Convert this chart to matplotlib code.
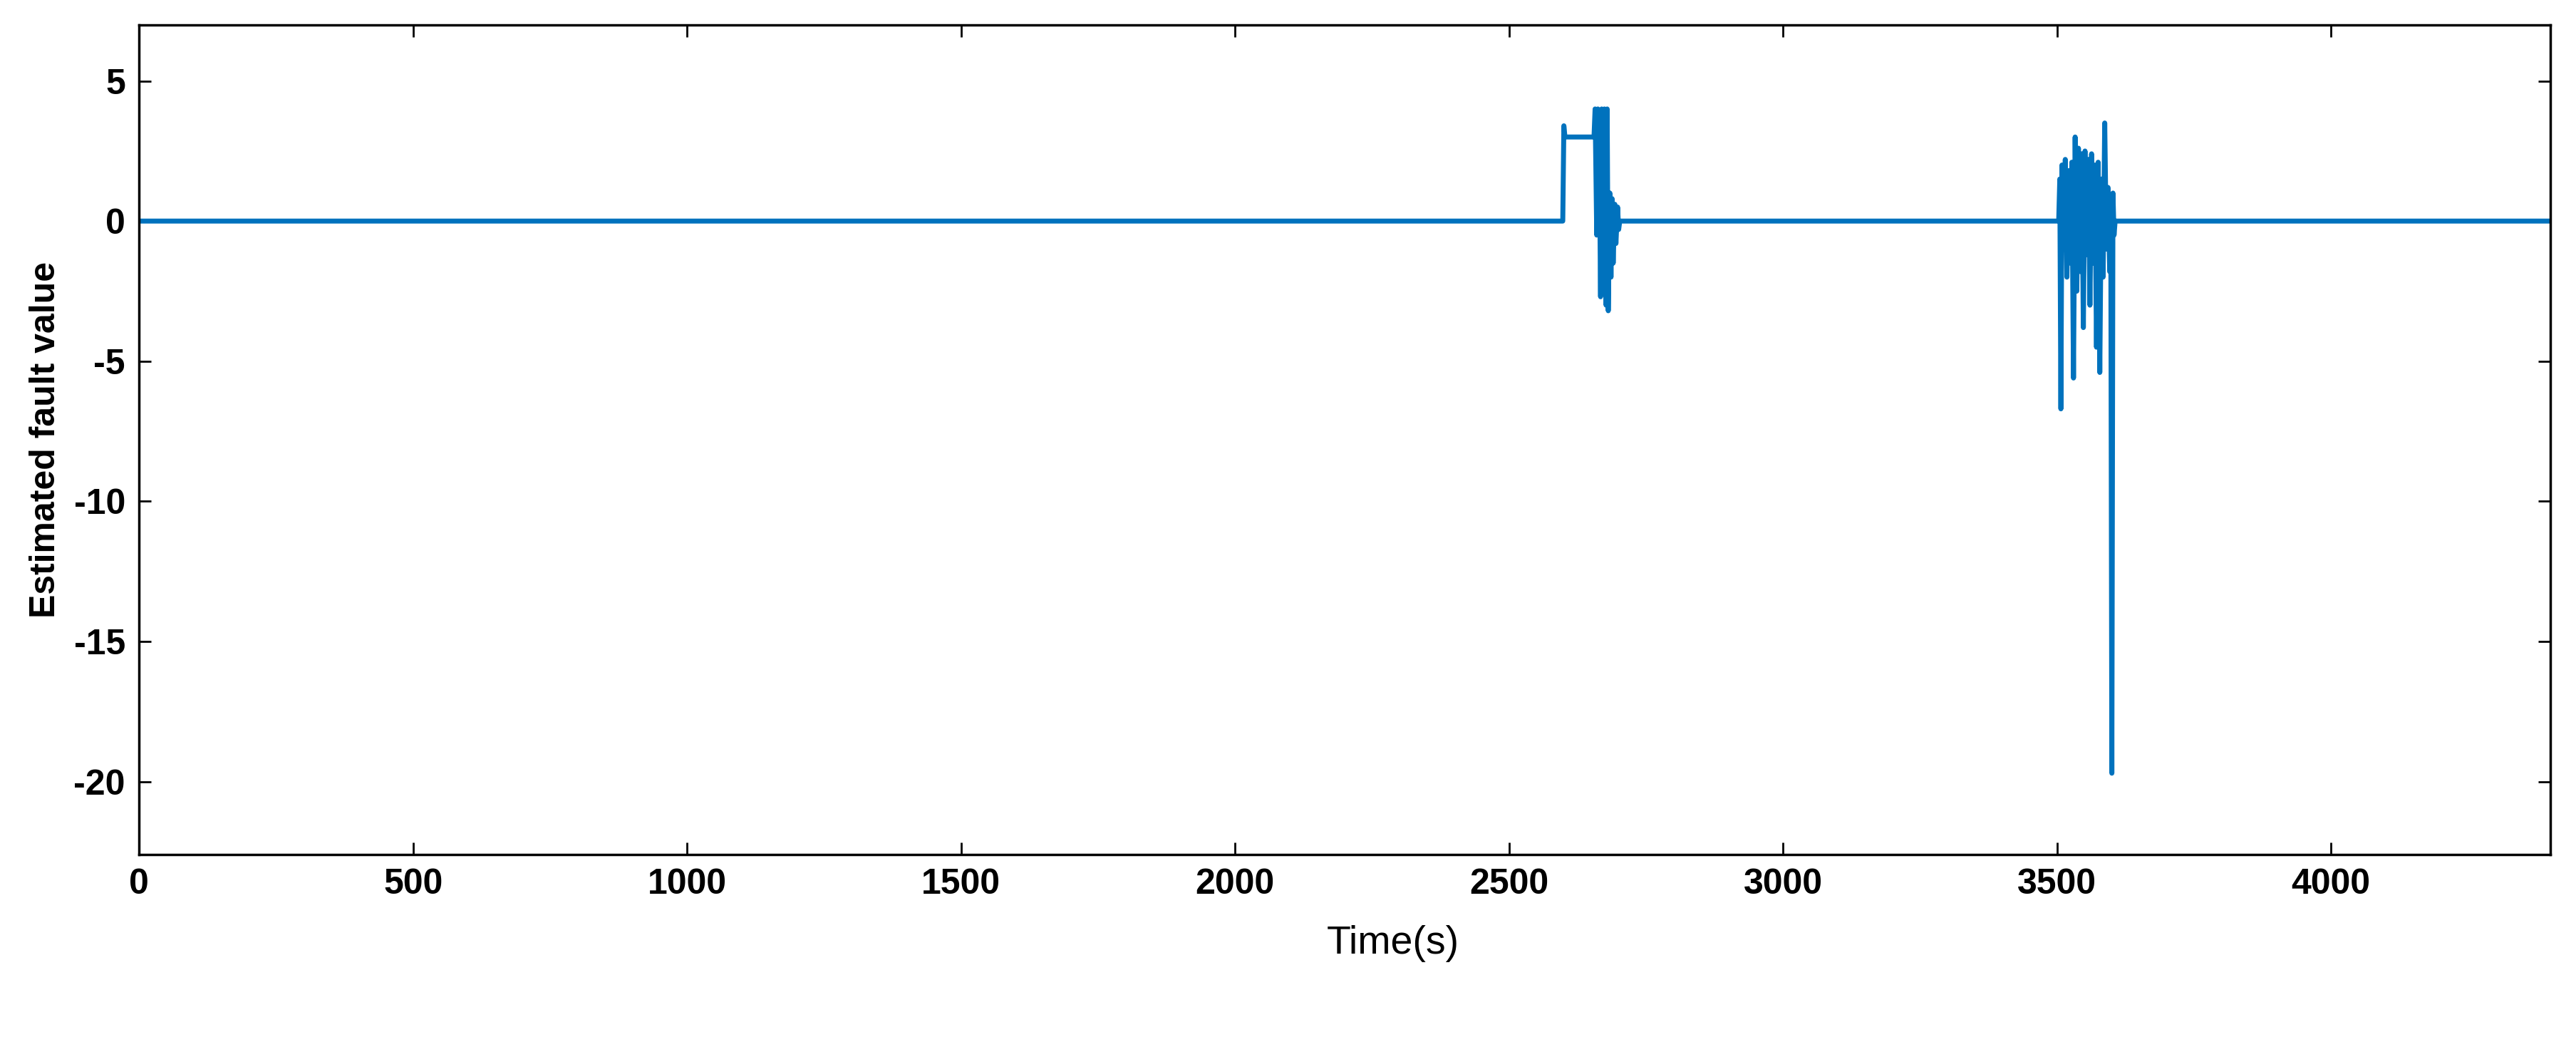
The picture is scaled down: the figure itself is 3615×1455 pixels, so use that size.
import numpy as np
import matplotlib
matplotlib.use('Agg')
import matplotlib.pyplot as plt

# Fault estimate (time in s, value)
burst1_t = [2598, 2600, 2602, 2655, 2657, 2660, 2662, 2664, 2667, 2669, 2672, 2674,
            2677, 2679, 2681, 2684, 2686, 2688, 2690, 2693, 2695, 2698, 2700, 2702]
burst1_v = [0.0, 3.4, 3.0, 3.0, 4.0, -0.5, 4.0, 3.8, -2.7, 4.0, -2.5, 4.0,
            -3.0, 4.0, -3.2, 1.0, -2.0, 0.8, -1.5, 0.6, -0.8, 0.5, -0.3, 0.0]
burst2_t = [3503, 3505, 3507, 3509, 3512, 3515, 3518, 3521, 3524, 3527, 3530, 3533,
            3536, 3539, 3542, 3545, 3548, 3551, 3554, 3557, 3560, 3563, 3566, 3569,
            3572, 3575, 3578, 3581, 3584, 3587, 3590, 3593, 3596, 3598, 3600, 3602,
            3604, 3606]
burst2_v = [0.0, 1.5, -6.7, 2.0, -1.0, 2.2, -2.0, 1.8, -1.5, 2.1, -5.6, 3.0,
            -2.5, 2.6, -1.8, 2.4, -3.8, 2.5, -1.2, 2.2, -3.0, 2.4, -1.5, 2.0,
            -4.5, 2.1, -5.4, 1.5, -2.0, 3.5, -1.0, 1.2, -1.8, 0.8, -19.7, 1.0,
            -0.5, 0.0]
t_end = 4400

time = [0] + burst1_t + burst2_t + [t_end]
value = [0.0] + burst1_v + burst2_v + [0.0]

plt.rcParams['font.family'] = ['Liberation Sans', 'DejaVu Sans']
plt.rcParams['axes.unicode_minus'] = False

fig = plt.figure(figsize=(36.15, 14.55), dpi=100)
ax = fig.add_axes([0.054, 0.176, 0.936, 0.80])

ax.plot(time, value, color='#0072BD', linewidth=5)

ax.set_xlim(0, 4400)
ax.set_ylim(-22.6, 7)
ax.set_xticks(np.arange(0, 4001, 500))
ax.set_yticks([5, 0, -5, -10, -15, -20])
ax.tick_params(direction='in', length=12, width=2, labelsize=36, pad=14,
               top=True, right=True)
for lab in ax.get_xticklabels() + ax.get_yticklabels():
    lab.set_fontweight('bold')
for sp in ax.spines.values():
    sp.set_linewidth(2.5)

ax.set_ylabel('Estimated fault value', fontsize=36, fontweight='bold', labelpad=12)
ax.set_xlabel('Time(s)', fontsize=40)
ax.xaxis.set_label_coords(0.52, -0.085)

fig.savefig('out.png', dpi=100)
plt.close('all')
